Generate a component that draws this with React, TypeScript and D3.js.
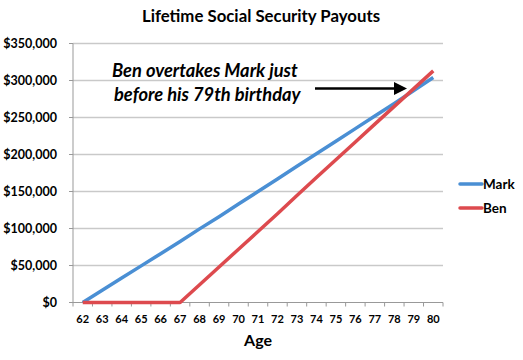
import React from 'react';
import * as d3 from 'd3';

const ages = [62, 63, 64, 65, 66, 67, 68, 69, 70, 71, 72, 73, 74, 75, 76, 77, 78, 79, 80];
const markValues = [0, 16500, 33000, 49500, 66000, 82500, 99500, 116000, 133000, 150000, 167000, 184000, 201000, 218000, 235000, 252000, 269000, 286500, 304000];
const benValues = [0, 0, 0, 0, 0, 0, 24000, 48000, 72000, 96000, 120000, 144500, 169000, 193000, 217000, 241000, 265000, 289000, 313000];
const yTicks = [0, 50000, 100000, 150000, 200000, 250000, 300000, 350000];
const seriesNames = ['Mark', 'Ben'];
const colors = ['#4a8fd4', '#dd4a4e'];

const W = 523;
const H = 360;
const font = 'Lato, "Open Sans", sans-serif';

const App = () => {
  const x = d3.scaleBand<number>().domain(ages).range([73, 443]);
  const y = d3.scaleLinear().domain([0, 350000]).range([302.5, 43.5]);
  const cx = (a: number) => (x(a) as number) + x.bandwidth() / 2;
  const fmt = (v: number) => '$' + d3.format(',')(v);

  const line = d3.line<number>()
    .x((d, i) => cx(ages[i]))
    .y(d => y(d));

  const series = [markValues, benValues];

  return (
    <svg width={W} height={H} style={{ position: 'absolute', left: 0, top: 0 }} fontFamily={font}>
      <rect width={W} height={H} fill="#fff" />
      <text x={261} y={22} textAnchor="middle" fontSize={16.8} fontWeight="bold">
        Lifetime Social Security Payouts
      </text>

      {/* grid + y axis */}
      {yTicks.map(t => (
        <g key={t}>
          {t > 0 && <line x1={73} x2={443} y1={y(t)} y2={y(t)} stroke="#c9c9c9" strokeWidth={1.5} />}
          <line x1={69} x2={73} y1={y(t)} y2={y(t)} stroke="#999" />
          <text x={57} y={y(t) + 4.5} textAnchor="end" fontSize={12.5} fontWeight="bold">{fmt(t)}</text>
        </g>
      ))}
      <line x1={73} x2={73} y1={43.5} y2={302.5} stroke="#999" />
      <line x1={73} x2={443} y1={302.5} y2={302.5} stroke="#999" />

      {/* x axis */}
      {ages.map(a => (
        <g key={a}>
          <line x1={(x(a) as number) + x.bandwidth()} x2={(x(a) as number) + x.bandwidth()} y1={302.5} y2={306.5} stroke="#999" />
          <text x={cx(a)} y={323} textAnchor="middle" fontSize={11} fontWeight="bold">{a}</text>
        </g>
      ))}
      <line x1={73} x2={73} y1={302.5} y2={306.5} stroke="#999" />
      <text x={258} y={346} textAnchor="middle" fontSize={16} fontWeight="bold">Age</text>

      {/* series */}
      {series.map((s, i) => (
        <path key={i} d={line(s) || ''} fill="none" stroke={colors[i]} strokeWidth={3.5} strokeLinejoin="round" />
      ))}

      {/* annotation */}
      <text x={112} y={77} fontSize={18.3} fontWeight="bold" fontStyle="italic">Ben overtakes Mark just</text>
      <text x={114} y={101} fontSize={18.3} fontWeight="bold" fontStyle="italic">before his 79th birthday</text>
      <line x1={315} x2={396} y1={88.5} y2={88.5} stroke="#000" strokeWidth={2.5} />
      <path d="M394,82 L407,88.5 L394,95 Z" fill="#000" />

      {/* legend */}
      {seriesNames.map((n, i) => (
        <g key={n} transform={`translate(0, ${184 + i * 24})`}>
          <line x1={460} x2={482} y1={0} y2={0} stroke={colors[i]} strokeWidth={3.5} strokeLinecap="round" />
          <text x={483} y={4.5} fontSize={13.5} fontWeight="bold">{n}</text>
        </g>
      ))}
    </svg>
  );
};

export default App;
